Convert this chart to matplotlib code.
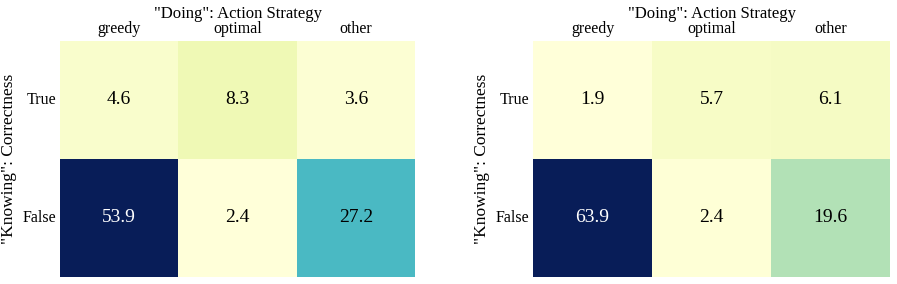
import numpy as np
import matplotlib
matplotlib.use("Agg")
import matplotlib.pyplot as plt
import seaborn as sns

plt.rcParams['font.family'] = ['Liberation Serif', 'DejaVu Serif']

# data
strategies = ["greedy", "optimal", "other"]
correctness = ["True", "False"]
left_vals = np.array([[4.6, 8.3, 3.6],
                      [53.9, 2.4, 27.2]])
right_vals = np.array([[1.9, 5.7, 6.1],
                       [63.9, 2.4, 19.6]])

fig = plt.figure(figsize=(8.97, 2.84), dpi=100)
ax1 = fig.add_axes([60 / 897, 7 / 284, 355 / 897, 236 / 284])
ax2 = fig.add_axes([533 / 897, 7 / 284, 357 / 897, 236 / 284])

for ax, vals in [(ax1, left_vals), (ax2, right_vals)]:
    sns.heatmap(vals, ax=ax, cmap="YlGnBu", annot=True, fmt=".1f", cbar=False,
                xticklabels=strategies, yticklabels=correctness,
                annot_kws={"fontsize": 14})
    # white text only on the darkest cells
    lo, hi = vals.min(), vals.max()
    for txt in ax.texts:
        v = float(txt.get_text())
        txt.set_color("white" if (v - lo) / (hi - lo) > 0.7 else "black")
    ax.xaxis.tick_top()
    ax.xaxis.set_label_position("top")
    ax.set_xlabel('"Doing": Action Strategy', fontsize=12, labelpad=2)
    ax.set_ylabel('"Knowing": Correctness', fontsize=12.5)
    ax.tick_params(length=0, labelsize=11.5, pad=3)
    plt.setp(ax.get_yticklabels(), rotation=0)
    plt.setp(ax.get_xticklabels(), rotation=0)

fig.savefig("out.png", dpi=100)
